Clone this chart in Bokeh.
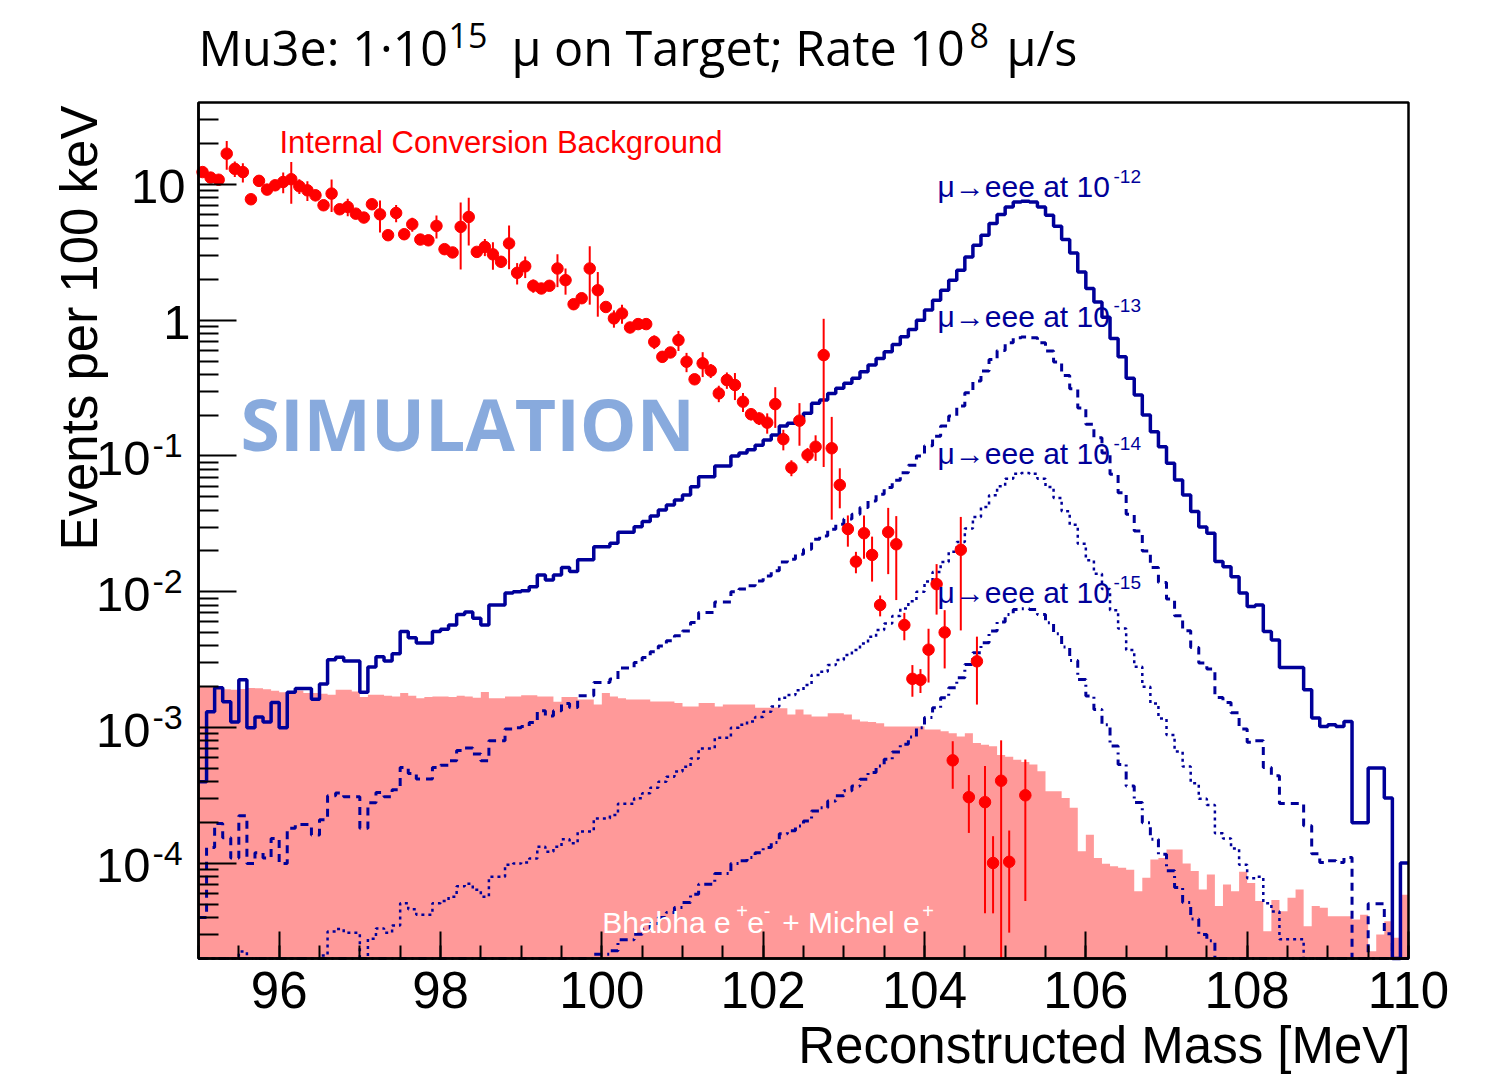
import math
import numpy as np
from bokeh.plotting import figure
from bokeh.models import FixedTicker, Label, CustomJSTickFormatter, Range1d, BoxAnnotation
from bokeh.embed import file_html
from bokeh.resources import INLINE

# ---------------------------------------------------------------- binning
X_MIN, X_MAX = 95.0, 110.0
Y_MIN, Y_MAX = 2e-5, 40.0
N_BINS = 150                      # 100 keV bins

# Signal shape (mu -> eee), events per 100 keV for a branching ratio of 1e-12
signal_br_1e12 = [
    4.0e-4, 1.31e-3, 1.97e-3, 1.55e-3, 1.10e-3, 2.25e-3, 1.00e-3, 1.20e-3, 1.10e-3, 1.53e-3,
    1.00e-3, 1.82e-3, 1.94e-3, 1.94e-3, 1.62e-3, 2.10e-3, 3.16e-3, 3.30e-3, 3.10e-3, 3.10e-3,
    1.82e-3, 2.80e-3, 3.33e-3, 3.10e-3, 3.50e-3, 5.10e-3, 4.60e-3, 4.20e-3, 4.20e-3, 5.10e-3,
    5.30e-3, 5.70e-3, 6.80e-3, 7.10e-3, 6.40e-3, 5.70e-3, 8.00e-3, 8.00e-3, 9.80e-3, 1.00e-2,
    1.02e-2, 1.09e-2, 1.33e-2, 1.22e-2, 1.33e-2, 1.51e-2, 1.41e-2, 1.72e-2, 1.72e-2, 2.15e-2,
    2.15e-2, 2.28e-2, 2.75e-2, 2.75e-2, 3.02e-2, 3.29e-2, 3.62e-2, 4.00e-2, 4.36e-2, 4.75e-2,
    5.16e-2, 5.94e-2, 7.04e-2, 7.04e-2, 8.43e-2, 8.43e-2, 0.100, 0.105, 0.111, 0.120,
    0.131, 0.143, 0.166, 0.174, 0.189, 0.206, 0.244, 0.258, 0.289, 0.315,
    0.343, 0.373, 0.417, 0.467, 0.523, 0.585, 0.663, 0.754, 0.853, 1.00,
    1.19, 1.40, 1.66, 1.97, 2.33, 2.92, 3.56, 4.22, 5.14, 5.99,
    6.81, 7.41, 7.50, 7.41, 6.81, 5.92, 4.91, 3.92, 3.12, 2.26,
    1.71, 1.36, 1.05, 0.733, 0.537, 0.373, 0.281, 0.200, 0.151, 0.117,
    8.84e-2, 6.67e-2, 5.17e-2, 3.90e-2, 3.00e-2, 2.70e-2, 1.67e-2, 1.53e-2, 1.29e-2, 9.8e-3,
    7.8e-3, 8.0e-3, 5.1e-3, 4.43e-3, 2.77e-3, 2.77e-3, 2.77e-3, 1.90e-3, 1.18e-3, 1.02e-3,
    1.05e-3, 1.02e-3, 1.11e-3, 2.0e-4, 2.0e-4, 5.06e-4, 5.06e-4, 3.04e-4, 0.0, 1.01e-4,
]

# Branching ratios drawn (solid, dashed, dotted, dash-dotted)
branching_ratios = [1e-12, 1e-13, 1e-14, 1e-15]
ratio_exponents = ["-12", "-13", "-14", "-15"]

# Bhabha e+e- + Michel e+ accidental background, events per 100 keV
background_bhabha_michel = [
    2.00e-3, 2.00e-3, 1.98e-3, 1.92e-3, 1.90e-3, 1.93e-3, 1.96e-3, 1.95e-3, 1.92e-3, 1.87e-3,
    1.82e-3, 1.86e-3, 1.88e-3, 1.80e-3, 1.80e-3, 1.78e-3, 1.75e-3, 1.90e-3, 1.90e-3, 1.85e-3,
    1.68e-3, 1.75e-3, 1.75e-3, 1.72e-3, 1.70e-3, 1.80e-3, 1.72e-3, 1.65e-3, 1.68e-3, 1.70e-3,
    1.70e-3, 1.68e-3, 1.72e-3, 1.70e-3, 1.66e-3, 1.83e-3, 1.65e-3, 1.65e-3, 1.70e-3, 1.70e-3,
    1.73e-3, 1.73e-3, 1.70e-3, 1.70e-3, 1.55e-3, 1.68e-3, 1.68e-3, 1.61e-3, 1.61e-3, 1.48e-3,
    1.80e-3, 1.70e-3, 1.65e-3, 1.61e-3, 1.61e-3, 1.61e-3, 1.56e-3, 1.56e-3, 1.56e-3, 1.52e-3,
    1.43e-3, 1.43e-3, 1.52e-3, 1.52e-3, 1.43e-3, 1.48e-3, 1.48e-3, 1.48e-3, 1.48e-3, 1.40e-3,
    1.40e-3, 1.41e-3, 1.39e-3, 1.25e-3, 1.36e-3, 1.25e-3, 1.21e-3, 1.21e-3, 1.28e-3, 1.28e-3,
    1.25e-3, 1.15e-3, 1.11e-3, 1.10e-3, 1.08e-3, 1.02e-3, 1.02e-3, 1.02e-3, 1.02e-3, 1.02e-3,
    9.7e-4, 9.7e-4, 9.4e-4, 9.1e-4, 8.6e-4, 9.1e-4, 7.7e-4, 7.5e-4, 7.3e-4, 6.3e-4,
    6.1e-4, 5.8e-4, 5.6e-4, 5.35e-4, 4.77e-4, 3.4e-4, 3.4e-4, 3.04e-4, 2.57e-4, 1.23e-4,
    1.63e-4, 1.10e-4, 9.96e-5, 9.55e-5, 9.3e-5, 9.0e-5, 6.26e-5, 7.85e-5, 1.07e-4, 1.10e-4,
    1.27e-4, 1.27e-4, 1.00e-4, 8.8e-5, 6.45e-5, 8.3e-5, 4.86e-5, 7.0e-5, 6.26e-5, 8.7e-5,
    7.2e-5, 5.3e-5, 3.18e-5, 5.4e-5, 4.46e-5, 5.6e-5, 6.45e-5, 3.46e-5, 4.86e-5, 4.72e-5,
    4.1e-5, 4.1e-5, 4.1e-5, 3.87e-5, 4.2e-5, 2.26e-5, 3.0e-5, 3.76e-5, 2.84e-5, 5.9e-5,
]

# Internal conversion background (mu -> eee nu nu): content and error per bin,
# None where the bin is empty
ic_values = [
    12.3, 11.2, 10.8, 16.8, 13.0, 12.3, 7.76, 10.6, 9.14, 9.83,
    10.4, 10.9, 9.67, 9.03, 8.30, 7.01, 8.54, 6.55, 6.81, 6.08,
    5.69, 7.13, 6.01, 4.22, 6.15, 4.29, 5.08, 3.92, 3.87, 4.94,
    3.33, 3.15, 4.86, 5.75, 3.18, 3.46, 3.05, 2.69, 3.67, 2.23,
    2.49, 1.79, 1.71, 1.79, 2.40, 1.97, 1.31, 1.45, 2.40, 1.66,
    1.25, 1.03, 1.12, 0.883, 0.935, 0.935, 0.692, 0.537, 0.578, 0.713,
    0.494, 0.367, 0.481, 0.425, 0.289, 0.362, 0.333, 0.251, 0.203, 0.189,
    0.176, 0.241, 0.133, 0.082, 0.182, 0.1016, 0.117, 0.553, 0.114, 0.0612,
    0.029, 0.0167, 0.027, 0.0187, 0.008, 0.0275, 0.0224, 0.0057, 0.00229, 0.00225,
    0.00375, 0.0114, 0.00503, 5.75e-4, 0.0204, 3.08e-4, 0.00308, 2.83e-4, 1.01e-4, 4.07e-4,
    1.03e-4, None, 3.18e-4,
]
ic_errors = [
    1.0, 0.8, 0.9, 4.0, 1.7, 2.0, 0.5, 0.6, 0.6, 0.9,
    1.8, 3.7, 1.2, 1.5, 0.8, 0.5, 2.3, 0.5, 1.0, 0.5,
    0.4, 0.6, 1.6, 0.3, 0.9, 0.4, 0.6, 0.3, 0.35, 0.95,
    0.25, 0.2, 2.5, 2.2, 0.25, 0.5, 0.7, 0.25, 1.3, 0.4,
    0.45, 0.2, 0.15, 0.15, 0.65, 0.43, 0.12, 0.12, 1.1, 0.6,
    0.1, 0.15, 0.18, 0.08, 0.08, 0.07, 0.08, 0.05, 0.05, 0.12,
    0.08, 0.03, 0.1, 0.05, 0.04, 0.05, 0.075, 0.04, 0.02, 0.02,
    0.03, 0.08, 0.023, 0.011, 0.063, 0.013, 0.025, 0.47, 0.08, 0.02,
    0.0075, 0.003, 0.0095, 0.0068, 0.0014, 0.014, 0.0137, 0.0013, 0.0006, 0.00045,
    0.0016, 0.0046, 0.0023, 2.2e-4, 0.0152, 1.4e-4, 0.0016, 2.4e-4, 5.8e-5, 4.0e-4,
    7.2e-5, None, 2.65e-4,
]

x_major = [96, 98, 100, 102, 104, 106, 108, 110]
y_major = [1e-4, 1e-3, 1e-2, 1e-1, 1.0, 10.0]
y_major_text = [("10", "-4"), ("10", "-3"), ("10", "-2"), ("10", "-1"), ("1", ""), ("10", "")]

# ---------------------------------------------------------------- page geometry
# The plotting frame spans the whole page; the histogram box sits inside it
# so that titles and tick labels can be placed freely around the box.
W, H = 1511, 1076
BOX_L, BOX_R, BOX_T, BOX_B = 198, 1408, 102, 958

x_per_px = (X_MAX - X_MIN) / (BOX_R - BOX_L)
X_LO = X_MIN - BOX_L * x_per_px
X_HI = X_MAX + (W - BOX_R) * x_per_px
dec_per_px = (math.log10(Y_MAX) - math.log10(Y_MIN)) / (BOX_B - BOX_T)
LOG_TOP = math.log10(Y_MAX) + BOX_T * dec_per_px
LOG_BOT = math.log10(Y_MIN) - (H - BOX_B) * dec_per_px


def sx(px):
    return X_LO + px * x_per_px


def sy(py):
    return 10 ** (LOG_TOP - py * dec_per_px)


NAVY = "#000099"
RED = "#ff0000"
PINK = "#ff9999"
HELV = "Liberation Sans"
OPEN = "Open Sans"
# baseline correction (fraction of the font size) for each face
BASELINE_SHIFT = {HELV: 0.36, OPEN: 0.42}

edges = np.linspace(X_MIN, X_MAX, N_BINS + 1)
centers = 0.5 * (edges[:-1] + edges[1:])

p = figure(width=W, height=H,
           x_range=Range1d(X_LO, X_HI), y_range=Range1d(10 ** LOG_BOT, 10 ** LOG_TOP),
           y_axis_type="log", output_backend="svg", toolbar_location=None,
           min_border=0)
p.background_fill_color = "white"
p.border_fill_color = "white"
p.xgrid.visible = False
p.ygrid.visible = False
p.outline_line_color = None

# axes: ROOT-like inward ticks, pinned to the histogram box
p.xaxis.fixed_location = Y_MIN
p.xaxis.bounds = (X_MIN, X_MAX)
p.xaxis.ticker = FixedTicker(ticks=x_major,
                             minor_ticks=list(np.arange(95.0, 110.01, 0.5)))
p.xaxis.major_tick_in = 27
p.xaxis.major_tick_out = 0
p.xaxis.minor_tick_in = 13
p.xaxis.minor_tick_out = 0
p.xaxis.major_label_text_font = HELV
p.xaxis.major_label_text_font_size = "51px"
p.xaxis.major_label_text_color = "black"
p.xaxis.major_label_standoff = 13

minor_y = [m * 10.0 ** e for e in range(-5, 2) for m in range(2, 10)
           if Y_MIN < m * 10.0 ** e < Y_MAX]
p.yaxis.fixed_location = X_MIN
p.yaxis.bounds = (Y_MIN, Y_MAX)
p.yaxis.ticker = FixedTicker(ticks=y_major, minor_ticks=minor_y)
p.yaxis.formatter = CustomJSTickFormatter(code="return ''")
p.yaxis.major_tick_in = 38
p.yaxis.major_tick_out = 0
p.yaxis.minor_tick_in = 20
p.yaxis.minor_tick_out = 0
p.yaxis.major_label_standoff = 0

for ax in (p.xaxis[0], p.yaxis[0]):
    ax.axis_line_width = 2.5
    ax.axis_line_color = "black"
    ax.major_tick_line_width = 2
    ax.minor_tick_line_width = 2
    ax.major_tick_line_color = "black"
    ax.minor_tick_line_color = "black"

p.add_layout(BoxAnnotation(left=X_MIN, right=X_MAX, bottom=Y_MIN, top=Y_MAX,
                           fill_color=None, fill_alpha=0,
                           line_color="black", line_alpha=1.0, line_width=2.5))

# ---------------------------------------------------------------- marks
bg = np.array(background_bhabha_michel)
p.varea_step(x=edges, y1=np.full(N_BINS + 1, Y_MIN), y2=np.append(bg, bg[-1]),
             step_mode="after", fill_color=PINK)

sig = np.array(signal_br_1e12)
line_dashes = ["solid", "8 6", "3 4", "8 5 2 5"]
line_widths = [3.5, 3.0, 2.5, 3.0]
for br, dash, lw in zip(branching_ratios, line_dashes, line_widths):
    y = sig * (br / 1e-12)
    y = np.maximum(y, Y_MIN)           # empty / underflowing bins sit on the frame
    y_step = np.append(y, y[-1])
    p.step(x=edges, y=y_step, mode="after", line_color=NAVY,
           line_width=lw, line_dash=dash)

ic_x, ic_y, ic_lo, ic_hi = [], [], [], []
for c, v, e in zip(centers, ic_values, ic_errors):
    if v is None:
        continue
    ic_x.append(c)
    ic_y.append(v)
    ic_lo.append(max(v - e, Y_MIN))
    ic_hi.append(v + e)
p.segment(x0=ic_x, y0=ic_lo, x1=ic_x, y1=ic_hi, line_color=RED, line_width=2)
p.scatter(x=ic_x, y=ic_y, size=11.5, marker="circle",
          fill_color=RED, line_color=RED)


# ---------------------------------------------------------------- texts
def add_text(px, py, text, size, color="black", font=HELV, align="left",
             angle=0.0, style="normal"):
    """Place a text by its baseline position on the page (pixels from top-left)."""
    shift = BASELINE_SHIFT[font] * size
    if angle:
        x, y = sx(px - shift), sy(py)
    else:
        x, y = sx(px), sy(py - shift)
    p.add_layout(Label(x=x, y=y, text=text, text_font=font,
                       text_font_size=f"{size}px", text_color=color,
                       text_align=align, text_baseline="alphabetic",
                       angle=angle, text_font_style=style))


# title with superscripts
add_text(198, 67, "Mu3e: 1·10", 48.5, font=OPEN)
add_text(448, 49, "15", 34, font=OPEN)
add_text(511, 67, "μ on Target; Rate 10", 48.5, font=OPEN)
add_text(969, 49, "8", 34, font=OPEN)
add_text(1006, 67, "μ/s", 48.5, font=OPEN)

# axis titles
add_text(1410, 1063, "Reconstructed Mass [MeV]", 51, align="right")
add_text(97, 105, "Events per 100 keV", 51, align="right", angle=math.pi / 2)

# y tick labels (powers of ten)
for val, (base, expo) in zip(y_major, y_major_text):
    tick_py = BOX_T + (math.log10(Y_MAX) - math.log10(val)) / dec_per_px
    if expo:
        add_text(150, tick_py + 20, base, 49, align="right")
        add_text(152, tick_py + 2, expo, 34)
    else:
        add_text(185 if base == "10" else 190, tick_py + 20, base, 49, align="right")

# in-frame annotations
add_text(279, 153, "Internal Conversion Background", 31, color=RED)
add_text(240, 453, "SIMULATION", 71.5, color="#88aadd", font=OPEN, style="bold")

label_base_py = [197, 327, 464, 603]
label_sup_py = [183, 312, 450, 589]
for expo, yb, ys in zip(ratio_exponents, label_base_py, label_sup_py):
    add_text(937, yb, "μ→eee at 10", 30, color=NAVY)
    add_text(1113, ys, expo, 19, color=NAVY)

add_text(601.7, 933, "Bhabha e", 30, color="white")
add_text(735.7, 918, "+", 20, color="white")
add_text(746.7, 933, "e", 30, color="white")
add_text(763.3, 918, "-", 20, color="white")
add_text(781.7, 933, "+ Michel e", 30, color="white")
add_text(921.7, 918, "+", 20, color="white")

open("out.html", "w").write(file_html(p, INLINE))
